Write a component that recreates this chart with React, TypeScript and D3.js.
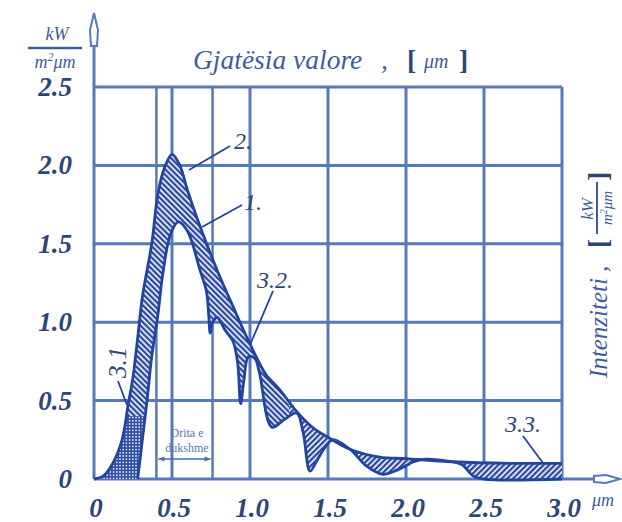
import React from 'react';
import * as d3 from 'd3';

// ---- data ----
const xTicks = [0, 0.5, 1.0, 1.5, 2.0, 2.5, 3.0];
const xTickLabels = ['0', '0.5', '1.0', '1.5', '2.0', '2.5', '3.0'];
const yTicks = [0, 0.5, 1.0, 1.5, 2.0, 2.5];
const yTickLabels = ['0', '0.5', '1.0', '1.5', '2.0', '2.5'];
const visibleBounds = [0.4, 0.76];

// curve 2: outside the atmosphere
const extraWavelength = [0, 0.06, 0.12, 0.18, 0.22, 0.25, 0.28, 0.31, 0.37, 0.41, 0.45, 0.5, 0.55, 0.6, 0.68, 0.79, 0.9, 0.94, 1.0, 1.05, 1.1, 1.19, 1.3, 1.4, 1.51, 1.64, 1.83, 2.0, 2.3, 2.67, 3.0];
const extraIntensity = [0, 0.02, 0.1, 0.25, 0.48, 0.65, 0.9, 1.16, 1.5, 1.82, 1.98, 2.07, 2.0, 1.84, 1.61, 1.33, 1.08, 0.99, 0.86, 0.76, 0.67, 0.57, 0.43, 0.33, 0.26, 0.19, 0.14, 0.13, 0.11, 0.1, 0.1];

// curve 1: at sea level
const seaWavelength = [0.28, 0.31, 0.34, 0.37, 0.41, 0.44, 0.49, 0.54, 0.6, 0.68, 0.72, 0.735, 0.745, 0.76, 0.79, 0.84, 0.89, 0.92, 0.94, 0.96, 0.99, 1.03, 1.06, 1.14, 1.22, 1.3, 1.34, 1.385, 1.43, 1.48, 1.53, 1.64, 1.75, 1.85, 1.95, 2.05, 2.11, 2.3, 2.36, 2.43, 2.5, 3.0];
const seaIntensity = [0, 0.25, 0.5, 0.78, 1.05, 1.3, 1.56, 1.64, 1.58, 1.33, 1.2, 1.05, 0.93, 1.0, 1.03, 0.95, 0.88, 0.75, 0.48, 0.62, 0.78, 0.77, 0.68, 0.33, 0.38, 0.42, 0.3, 0.05, 0.12, 0.2, 0.25, 0.19, 0.08, 0.03, 0.06, 0.11, 0.125, 0.11, 0.09, 0.02, 0, 0];

const W = 622;
const H = 522;
const x = d3.scaleLinear().domain([0, 3]).range([94, 562]);
const y = d3.scaleLinear().domain([0, 2.5]).range([479, 87]);

const GRID = '#5679b9';
const CURVE = '#2244a0';
const TEXT = '#2c4676';
const TITLE = '#3d5d9c';
const FONT = '"Liberation Serif", "DejaVu Serif", serif';

export default function App() {
  const p2: [number, number][] = extraWavelength.map((w, i) => [w, extraIntensity[i]]);
  const p1: [number, number][] = seaWavelength.map((w, i) => [w, seaIntensity[i]]);
  const line = d3
    .line<[number, number]>()
    .x((d) => x(d[0]))
    .y((d) => y(d[1]))
    .curve(d3.curveCatmullRom.alpha(0.5));
  const path2 = line(p2) as string;
  const path1 = line(p1) as string;
  const band = path2 + (line([...p1].reverse()) as string).replace(/^M/, 'L') + 'Z';

  return (
    <svg width={W} height={H} style={{ position: 'absolute', left: 0, top: 0, background: '#fff' }}>
      <defs>
        <pattern id="hatchA" patternUnits="userSpaceOnUse" width="4" height="4" patternTransform="rotate(-45)">
          <rect width="4" height="4" fill="#fff" />
          <rect x="0" y="0" width="2.4" height="4" fill="#2a49a0" />
        </pattern>
        <pattern id="hatchB" patternUnits="userSpaceOnUse" width="4" height="4" patternTransform="rotate(45)">
          <rect width="4" height="4" fill="#fff" />
          <rect x="0" y="0" width="2.4" height="4" fill="#2a49a0" />
        </pattern>
        <pattern id="dots" patternUnits="userSpaceOnUse" width="3.2" height="3.2">
          <rect width="3.2" height="3.2" fill="#2f4fa3" />
          <circle cx="1.6" cy="1.6" r="0.85" fill="#fff" />
        </pattern>
        <clipPath id="clipLeft">
          <rect x={0} y={0} width={x(1.25)} height={H} />
        </clipPath>
        <clipPath id="clipRight">
          <rect x={x(1.25)} y={0} width={W} height={H} />
        </clipPath>
        <clipPath id="clipUV">
          <rect x={x(0)} y={y(0.4)} width={x(0.4) - x(0)} height={y(0) - y(0.4)} />
        </clipPath>
      </defs>

      {/* grid */}
      {yTicks.filter((t) => t > 0).map((t) => (
        <line key={'h' + t} x1={x(0)} x2={x(3)} y1={y(t)} y2={y(t)} stroke={GRID} strokeWidth={3} />
      ))}
      {xTicks.filter((t) => t > 0).map((t) => (
        <line key={'v' + t} x1={x(t)} x2={x(t)} y1={y(0)} y2={y(2.5)} stroke={GRID} strokeWidth={3} />
      ))}
      {visibleBounds.map((t) => (
        <line key={'vb' + t} x1={x(t)} x2={x(t)} y1={y(0)} y2={y(2.5)} stroke={GRID} strokeWidth={2.5} />
      ))}

      {/* axes */}
      <line x1={x(0)} x2={x(0)} y1={y(0)} y2={45} stroke={GRID} strokeWidth={3} />
      <path d="M94,13 L98,30 L97,46 L91,46 L90,30 Z" fill="#fff" stroke={GRID} strokeWidth={2} />
      <line x1={x(0)} x2={594} y1={y(0)} y2={y(0)} stroke={GRID} strokeWidth={3} />
      <path d="M620,479 L606,475 L594,476 L594,482 L606,483 Z" fill="#fff" stroke={GRID} strokeWidth={2} />

      {/* filled regions */}
      <path d={band} fill="url(#hatchA)" clipPath="url(#clipLeft)" />
      <path d={band} fill="url(#hatchB)" clipPath="url(#clipRight)" />
      <path d={band} fill="url(#dots)" clipPath="url(#clipUV)" />

      {/* curves */}
      <path d={path2} fill="none" stroke={CURVE} strokeWidth={2.8} strokeLinejoin="round" />
      <path d={path1} fill="none" stroke={CURVE} strokeWidth={2.8} strokeLinejoin="round" />

      {/* tick labels */}
      {xTicks.map((t, i) => (
        <text key={'xl' + t} x={x(t) + 2} y={517} textAnchor="middle" fontFamily={FONT} fontStyle="italic" fontWeight="bold" fontSize={27} fill={TEXT}>
          {xTickLabels[i]}
        </text>
      ))}
      {yTicks.map((t, i) => (
        <text key={'yl' + t} x={72} y={y(t) + 9} textAnchor="end" fontFamily={FONT} fontStyle="italic" fontWeight="bold" fontSize={27} fill={TEXT}>
          {yTickLabels[i]}
        </text>
      ))}
      <text x={592} y={506} fontFamily={FONT} fontStyle="italic" fontSize={18} fill={TITLE}>μm</text>

      {/* title */}
      <text x={193} y={69} fontFamily={FONT} fontStyle="italic" fontSize={27.5} fill={TITLE}>Gjatësia valore</text>
      <text x={381} y={69} fontFamily={FONT} fontStyle="italic" fontSize={27.5} fill={TITLE}>,</text>
      <text x={407} y={69} fontFamily={FONT} fontWeight="bold" fontSize={27.5} fill={TEXT}>[</text>
      <text x={424} y={68} fontFamily={FONT} fontStyle="italic" fontSize={20} fill={TITLE}>μm</text>
      <text x={459} y={69} fontFamily={FONT} fontWeight="bold" fontSize={27.5} fill={TEXT}>]</text>

      {/* y unit top-left */}
      <text x={57} y={40} textAnchor="middle" fontFamily={FONT} fontStyle="italic" fontSize={18} fill={TITLE}>kW</text>
      <line x1={28} x2={82} y1={48} y2={48} stroke={TITLE} strokeWidth={2.5} />
      <text x={55} y={68} textAnchor="middle" fontFamily={FONT} fontStyle="italic" fontSize={18} fill={TITLE}>
        m<tspan fontSize={12} dy={-7}>2</tspan><tspan dy={7}>μm</tspan>
      </text>

      {/* right axis title */}
      <g transform="translate(607,378) rotate(-90)">
        <text x={0} y={0} fontFamily={FONT} fontStyle="italic" fontSize={25} fill={TITLE}>
          Intenziteti<tspan dx={6}>,</tspan>
        </text>
        <text x={130} y={0} fontFamily={FONT} fontWeight="bold" fontSize={28} fill={TEXT}>[</text>
        <text x={169} y={-14} textAnchor="middle" fontFamily={FONT} fontStyle="italic" fontSize={17} fill={TITLE}>kW</text>
        <line x1={144} x2={196} y1={-10} y2={-10} stroke={TITLE} strokeWidth={2} />
        <text x={170} y={5} textAnchor="middle" fontFamily={FONT} fontStyle="italic" fontSize={15} fill={TITLE}>
          m<tspan fontSize={10} dy={-5}>2</tspan><tspan dy={5}>μm</tspan>
        </text>
        <text x={197} y={0} fontFamily={FONT} fontWeight="bold" fontSize={28} fill={TEXT}>]</text>
      </g>

      {/* curve labels */}
      <line x1={230} y1={146} x2={189} y2={170} stroke={CURVE} strokeWidth={1.8} />
      <text x={234} y={149} fontFamily={FONT} fontStyle="italic" fontSize={24} fill={TEXT}>2.</text>
      <line x1={242} y1={205} x2={202} y2={227} stroke={CURVE} strokeWidth={1.8} />
      <text x={244} y={210} fontFamily={FONT} fontStyle="italic" fontSize={24} fill={TEXT}>1.</text>
      <line x1={273} y1={291} x2={250} y2={345} stroke={CURVE} strokeWidth={1.8} />
      <text x={257} y={288} fontFamily={FONT} fontStyle="italic" fontSize={24} fill={TEXT}>3.2.</text>
      <line x1={523} y1={436} x2={543} y2={463} stroke={CURVE} strokeWidth={1.8} />
      <text x={505} y={432} fontFamily={FONT} fontStyle="italic" fontSize={24} fill={TEXT}>3.3.</text>
      <line x1={118} y1={381} x2={127} y2={405} stroke={CURVE} strokeWidth={1.8} />
      <text transform="translate(126,378) rotate(-90)" fontFamily={FONT} fontStyle="italic" fontSize={25} fill={TEXT}>3.1</text>

      {/* visible light annotation */}
      <text x={187} y={437} textAnchor="middle" fontFamily={FONT} fontSize={12} fill="#5a78b4">Drita e</text>
      <text x={187} y={452} textAnchor="middle" fontFamily={FONT} fontSize={12} fill="#5a78b4">dukshme</text>
      <line x1={x(0.4) + 2} x2={x(0.76) - 2} y1={459} y2={459} stroke="#4a6cb0" strokeWidth={1.5} />
      <path d={`M${x(0.4) + 2},459 l6,-2.5 l0,5 Z`} fill="#4a6cb0" />
      <path d={`M${x(0.76) - 2},459 l-6,-2.5 l0,5 Z`} fill="#4a6cb0" />
    </svg>
  );
}
